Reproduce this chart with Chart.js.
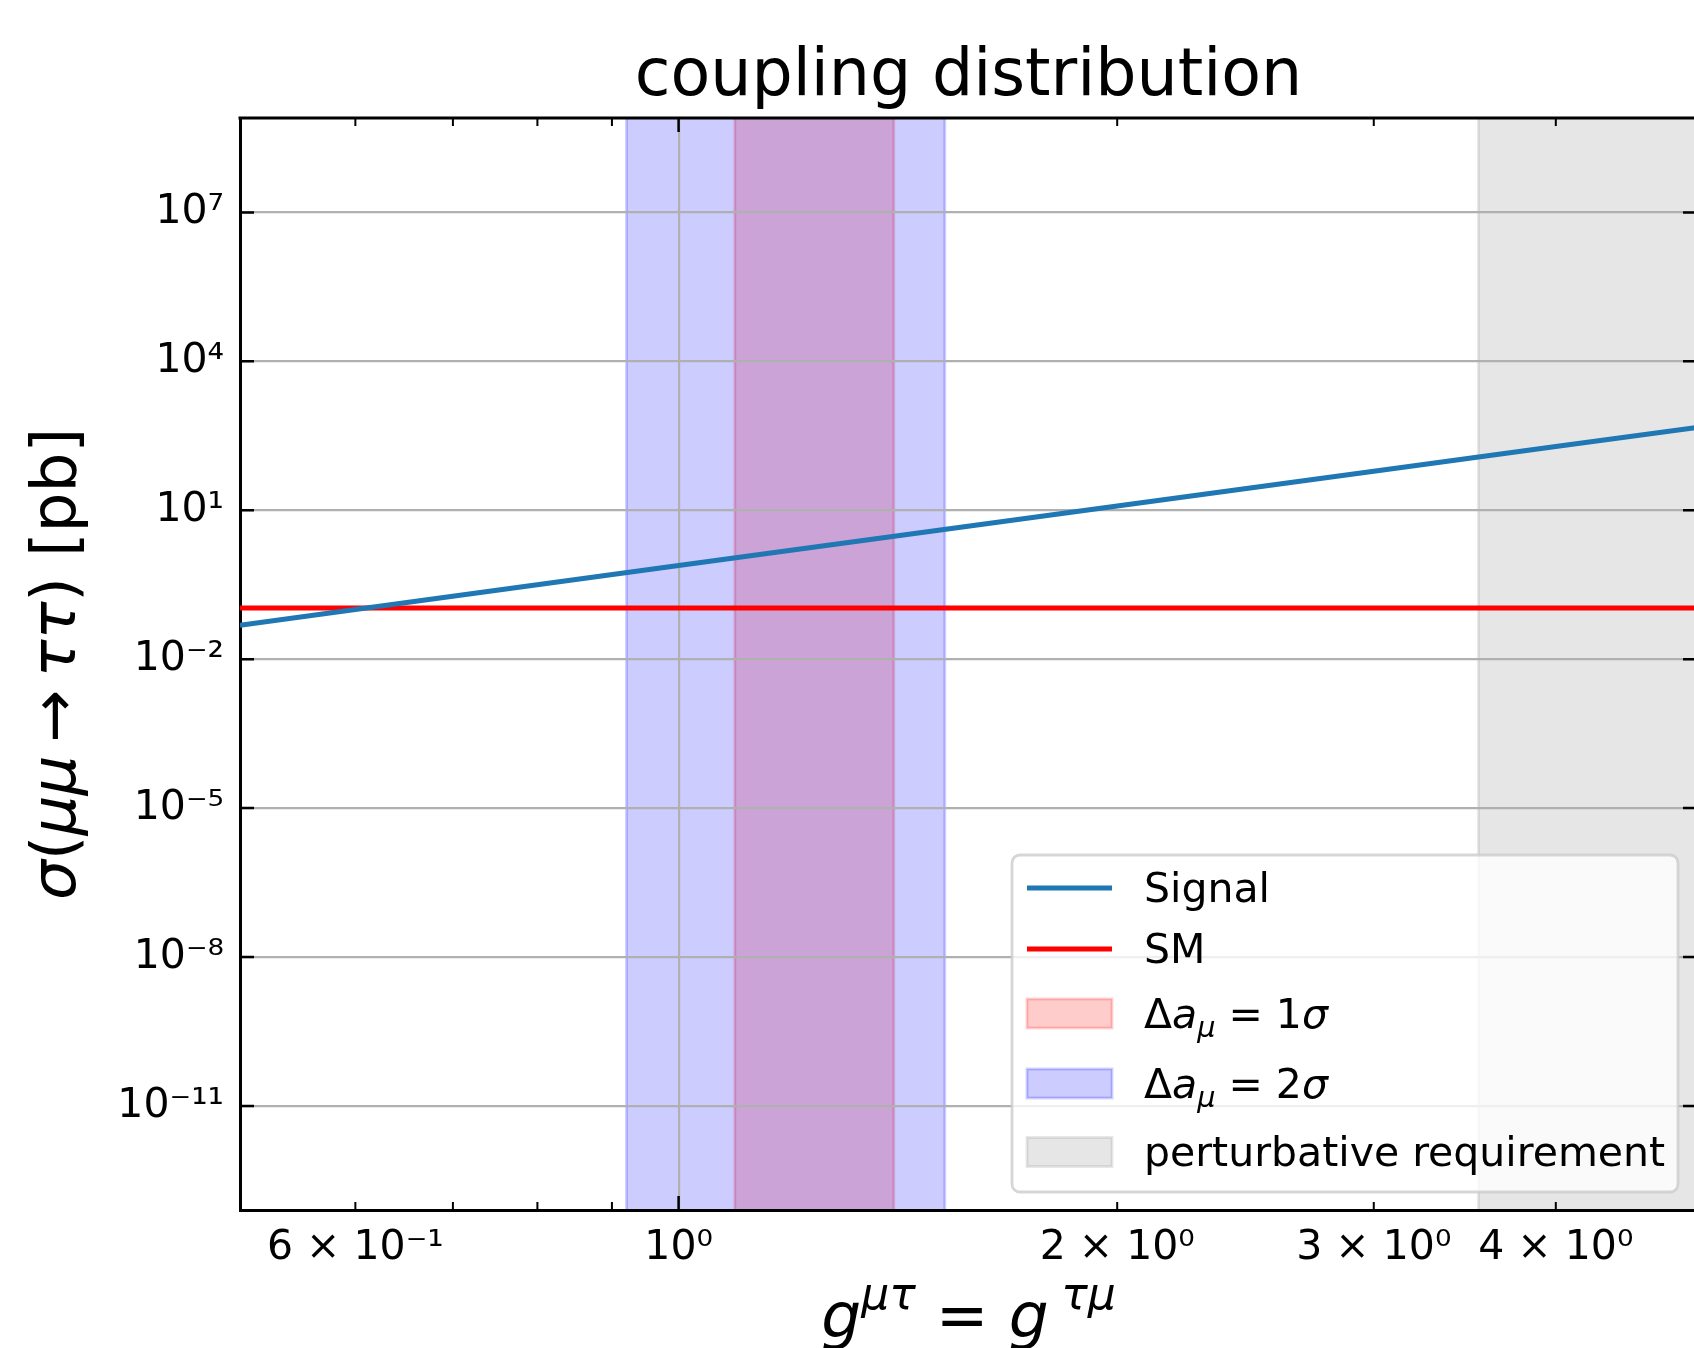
<!DOCTYPE html>
<html>
<head>
<meta charset="utf-8">
<title>coupling distribution</title>
<script src="https://cdn.jsdelivr.net/npm/chart.js@4.4.1/dist/chart.umd.min.js"></script>
<style>
  html, body { margin: 0; padding: 0; background: #fff; overflow: hidden; }
  canvas { display: block; }
</style>
</head>
<body>
<canvas id="coupling" width="1697" height="1348"></canvas>
<script>
// values
const couplings = [0.5, 0.6, 1, 2, 3, 4, 5]
const signalXsec = [0.0485, 0.0998, 0.77, 12.2, 61, 192, 465]
const smCouplings = [0.5, 5]
const smXsec = [0.108, 0.108]

const oneSigmaBand = [1.093, 1.405]
const twoSigmaBand = [0.921, 1.523]
const perturbativeBand = [3.54, 5]

const xTicks = [0.6, 0.7, 0.8, 0.9, 1, 2, 3, 4]
const xTickLabels = ['6 × 10⁻¹', '', '', '', '10⁰', '2 × 10⁰', '3 × 10⁰', '4 × 10⁰']
const yTicks = [1e-11, 1e-8, 1e-5, 1e-2, 1e1, 1e4, 1e7]
const yTickLabels = ['10⁻¹¹', '10⁻⁸', '10⁻⁵', '10⁻²', '10¹', '10⁴', '10⁷']

const FONT = '"DejaVu Sans"'

// draw a row of text pieces: [text, italic, scale, shift in em]
const drawRuns = (ctx, runs, x, y, size, align) => {
  let total = 0
  const parts = runs.map(([t, it = false, sc = 1, dy = 0]) => {
    const font = (it ? 'italic ' : '') + (size * sc) + 'px ' + FONT
    ctx.font = font
    const w = ctx.measureText(t).width
    total += w
    return {t, font, w, dy: dy * size}
  })
  let cx = align === 'center' ? x - total / 2 : x
  ctx.textAlign = 'left'
  ctx.textBaseline = 'alphabetic'
  ctx.fillStyle = '#000'
  parts.forEach(p => {
    ctx.font = p.font
    ctx.fillText(p.t, cx, y + p.dy)
    cx += p.w
  })
}

const bands = [
  {range: oneSigmaBand, rgb: '255,0,0'},
  {range: twoSigmaBand, rgb: '0,0,255'},
  {range: perturbativeBand, rgb: '128,128,128'}
]

const bandsPlugin = {
  id: 'bands',
  beforeDraw(chart) {
    const {ctx, chartArea: a, scales: {x}} = chart
    ctx.save()
    ctx.fillStyle = '#fff'
    ctx.fillRect(0, 0, chart.width, chart.height)
    bands.forEach(b => {
      const x0 = x.getPixelForValue(b.range[0])
      const x1 = x.getPixelForValue(b.range[1])
      ctx.fillStyle = `rgba(${b.rgb},0.2)`
      ctx.fillRect(x0, a.top, x1 - x0, a.bottom - a.top)
      ctx.strokeStyle = `rgba(${b.rgb},0.2)`
      ctx.lineWidth = 2.8
      ctx.beginPath()
      ctx.moveTo(x0, a.top); ctx.lineTo(x0, a.bottom)
      ctx.moveTo(x1, a.top); ctx.lineTo(x1, a.bottom)
      ctx.stroke()
    })
    ctx.restore()
  }
}

const frameTicksPlugin = {
  id: 'frameTicks',
  afterDatasetsDraw(chart) {
    const {ctx, chartArea: a, scales: {x, y}} = chart
    ctx.save()
    ctx.strokeStyle = '#000'
    // top spine
    ctx.lineWidth = 3
    ctx.beginPath()
    ctx.moveTo(a.left - 1.5, a.top); ctx.lineTo(a.right, a.top)
    ctx.moveTo(a.right, a.top); ctx.lineTo(a.right, a.bottom)
    ctx.stroke()
    // inward ticks on all sides
    xTicks.forEach(v => {
      const px = x.getPixelForValue(v)
      const len = v === 1 ? 14 : 8
      ctx.lineWidth = v === 1 ? 2.5 : 2
      ctx.beginPath()
      ctx.moveTo(px, a.bottom); ctx.lineTo(px, a.bottom - len)
      ctx.moveTo(px, a.top); ctx.lineTo(px, a.top + len)
      ctx.stroke()
    })
    ctx.lineWidth = 2.5
    yTicks.forEach(v => {
      const py = y.getPixelForValue(v)
      ctx.beginPath()
      ctx.moveTo(a.left, py); ctx.lineTo(a.left + 14, py)
      ctx.moveTo(a.right, py); ctx.lineTo(a.right - 14, py)
      ctx.stroke()
    })
    ctx.restore()
  }
}

const legendItems = [
  {kind: 'line', color: '#1f77b4', runs: [['Signal']]},
  {kind: 'line', color: '#ff0000', runs: [['SM']]},
  {kind: 'patch', rgb: '255,0,0', runs: [['Δ'], ['a', true], ['μ', true, 0.7, 0.22], [' = '], ['1'], ['σ', true]]},
  {kind: 'patch', rgb: '0,0,255', runs: [['Δ'], ['a', true], ['μ', true, 0.7, 0.22], [' = '], ['2'], ['σ', true]]},
  {kind: 'patch', rgb: '128,128,128', runs: [['perturbative requirement']]}
]
const legendRows = [33, 94, 158.5, 228.5, 297]

const textPlugin = {
  id: 'texts',
  afterDraw(chart) {
    const {ctx, chartArea: a} = chart
    const cx = (a.left + a.right) / 2
    ctx.save()
    // title
    drawRuns(ctx, [['coupling distribution']], cx, 95, 65, 'center')
    // x axis label
    drawRuns(ctx, [['g', true], ['μτ', true, 0.7, -0.45], [' = '], ['g', true], ['\u2009'], ['τμ', true, 0.7, -0.45]], cx, 1337, 63, 'center')
    // y axis label
    ctx.save()
    ctx.translate(75, (a.top + a.bottom) / 2)
    ctx.rotate(-Math.PI / 2)
    drawRuns(ctx, [['σ', true], ['('], ['μμ', true], ['\u2009→\u2009'], ['ττ', true], [')'], [' [pb]']], 0, 0, 63, 'center')
    ctx.restore()

    // legend, lower right
    const w = 666, h = 337
    const lx = a.right - 19 - w, ly = a.bottom - 18 - h
    ctx.beginPath()
    ctx.roundRect(lx, ly, w, h, 8)
    ctx.fillStyle = 'rgba(255,255,255,0.8)'
    ctx.fill()
    ctx.strokeStyle = 'rgba(204,204,204,0.8)'
    ctx.lineWidth = 2.8
    ctx.stroke()
    legendItems.forEach((item, i) => {
      const yc = ly + legendRows[i]
      const hx = lx + 15
      if (item.kind === 'line') {
        ctx.strokeStyle = item.color
        ctx.lineWidth = 5
        ctx.beginPath()
        ctx.moveTo(hx, yc); ctx.lineTo(hx + 85, yc)
        ctx.stroke()
      } else {
        ctx.fillStyle = `rgba(${item.rgb},0.2)`
        ctx.fillRect(hx, yc - 14.5, 85, 29)
        ctx.strokeStyle = `rgba(${item.rgb},0.2)`
        ctx.lineWidth = 2.8
        ctx.strokeRect(hx, yc - 14.5, 85, 29)
      }
      drawRuns(ctx, item.runs, lx + 132, yc + 14, 41, 'left')
    })
    ctx.restore()
  }
}

const canvas = document.querySelector('#coupling')
const couplingChart = new Chart(canvas, {
  type: 'line',
  data: {
    datasets: [
      {
        label: 'Signal',
        data: couplings.map((g, i) => ({x: g, y: signalXsec[i]})),
        borderColor: '#1f77b4',
        borderWidth: 5,
        pointRadius: 0,
        fill: false
      },
      {
        label: 'SM',
        data: smCouplings.map((g, i) => ({x: g, y: smXsec[i]})),
        borderColor: '#ff0000',
        borderWidth: 5,
        pointRadius: 0,
        fill: false
      }
    ]
  },
  options: {
    responsive: false,
    animation: false,
    devicePixelRatio: 1,
    layout: {padding: {top: 118, right: 0, bottom: 0, left: 0}},
    plugins: {
      legend: {display: false},
      tooltip: {enabled: false},
      title: {display: false}
    },
    scales: {
      x: {
        type: 'logarithmic',
        min: 0.5,
        max: 5,
        bounds: 'data',
        afterBuildTicks: s => { s.ticks = xTicks.map(v => ({value: v, major: false})) },
        afterFit: s => { s.height = 138 },
        ticks: {
          autoSkip: false,
          maxRotation: 0,
          padding: 14,
          color: '#000',
          font: {family: 'DejaVu Sans', size: 41},
          callback: (v, i) => xTickLabels[i]
        },
        grid: {
          drawTicks: false,
          lineWidth: 2.2,
          color: c => (c.tick && c.tick.value === 1) ? '#b0b0b0' : 'rgba(0,0,0,0)'
        },
        border: {color: '#000', width: 3}
      },
      y: {
        type: 'logarithmic',
        min: 8e-14,
        max: 8e8,
        bounds: 'data',
        afterBuildTicks: s => { s.ticks = yTicks.map(v => ({value: v, major: false})) },
        afterFit: s => { s.width = 240 },
        ticks: {
          autoSkip: false,
          padding: 16,
          color: '#000',
          font: {family: 'DejaVu Sans', size: 41},
          callback: (v, i) => yTickLabels[i]
        },
        grid: {drawTicks: false, lineWidth: 2.2, color: '#b0b0b0'},
        border: {color: '#000', width: 3}
      }
    }
  },
  plugins: [bandsPlugin, frameTicksPlugin, textPlugin]
})
</script>
</body>
</html>
